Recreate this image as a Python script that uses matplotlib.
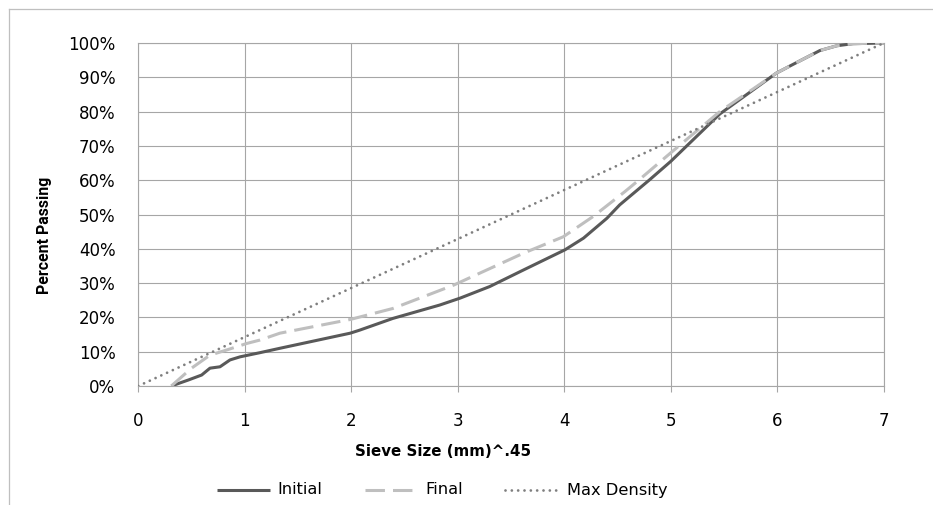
import matplotlib
matplotlib.use("Agg")
import matplotlib.pyplot as plt
from matplotlib.lines import Line2D
from matplotlib.ticker import FuncFormatter

plt.rcParams['font.family'] = ['DejaVu Sans']
plt.rcParams['lines.scale_dashes'] = False

# ---- data (x = sieve size (mm)^0.45, y = percent passing) ----
initial_x = [0.31, 0.47, 0.595, 0.673, 0.767, 0.861, 0.955, 1.14, 1.33, 1.99, 2.08, 2.39,
             2.83, 3.02, 3.30, 3.615, 4.006, 4.18, 4.40, 4.52, 4.80, 5.0, 5.46, 5.99,
             6.15, 6.40, 6.56, 6.71, 7.0]
initial_y = [0, 1.75, 3.2, 5.2, 5.6, 7.6, 8.5, 9.7, 11.0, 15.4, 16.3, 19.7,
             23.6, 25.6, 29.0, 33.8, 39.7, 43.1, 48.9, 52.8, 60.1, 65.5, 79.3, 91.2,
             93.8, 97.8, 99.2, 99.8, 100]

final_x = [0.31, 0.39, 0.50, 0.673, 0.83, 1.018, 1.143, 1.33, 1.99, 2.39, 2.96, 3.615,
           3.99, 4.27, 4.57, 4.71, 5.0, 5.46, 5.99, 6.15, 6.40, 6.56, 6.71, 7.0]
final_y = [0, 2.2, 5.2, 9.0, 10.5, 12.4, 13.4, 15.4, 19.4, 22.6, 29.4, 38.7,
           43.5, 49.4, 56.7, 60.3, 68.0, 80.0, 91.2, 93.8, 97.8, 99.2, 99.8, 100]

maxd_x = [0, 7]
maxd_y = [0, 100]

x_ticks = [0, 1, 2, 3, 4, 5, 6, 7]
y_ticks = [0, 10, 20, 30, 40, 50, 60, 70, 80, 90, 100]

series_names = ["Initial", "Final", "Max Density"]

# ---- styling ----
W, H = 933, 505
fig = plt.figure(figsize=(W / 100, H / 100), dpi=100)

def fx(px):
    return px / W

def fy(py):
    return 1 - py / H

ax_l, ax_r, ax_t, ax_b = 138.3, 883.8, 43.0, 386.0
ax = fig.add_axes([fx(ax_l), fy(ax_b), (ax_r - ax_l) / W, (ax_b - ax_t) / H])

grid_c = '#A6A6A6'
c_init = '#595959'
c_final = '#BFBFBF'
c_max = '#7F7F7F'

lw = 2.2
style_init = dict(color=c_init, lw=lw, solid_capstyle='butt', solid_joinstyle='round')
style_final = dict(color=c_final, lw=lw, linestyle=(0, (14.0, 5.8)), dash_capstyle='butt')
style_max = dict(color=c_max, lw=2.0, linestyle=(0, (0.01, 4.55)), dash_capstyle='round')

ax.plot(initial_x, initial_y, zorder=3, **style_init)
ax.plot(final_x, final_y, zorder=4, **style_final)
ax.plot(maxd_x, maxd_y, zorder=5, **style_max)

ax.set_xlim(0, 7)
ax.set_ylim(0, 100)
ax.set_xticks(x_ticks)
ax.set_yticks(y_ticks)
ax.yaxis.set_major_formatter(FuncFormatter(lambda v, p: f"{int(v)}%"))
ax.grid(True, color=grid_c, lw=0.8)
ax.set_axisbelow(True)
for s in ax.spines.values():
    s.set_color(grid_c)
    s.set_linewidth(0.8)
ax.tick_params(axis='x', direction='out', length=4.3, width=0.8, color=grid_c,
               labelsize=12, pad=14.5, labelcolor='black')
ax.tick_params(axis='y', length=0, labelsize=12, pad=16.5, labelcolor='black')

# axis titles (positioned as in reference)
fig.text(fx(443), fy(452), "Sieve Size (mm)^.45", ha='center', va='center',
         fontsize=10.8, fontweight='bold')
fig.text(fx(44), fy(235), "Percent Passing", ha='center', va='center',
         rotation=90, fontsize=11.4, fontweight='bold',
         family=['Roboto', 'DejaVu Sans'])

# legend drawn manually
ly = fy(490)
legend_items = [
    (217, 270, 277, style_init, series_names[0]),
    (365, 420, 425, style_final, series_names[1]),
    (505, 562, 567, style_max, series_names[2]),
]
for x0, x1, tx, st, name in legend_items:
    fig.add_artist(Line2D([fx(x0), fx(x1)], [ly, ly], transform=fig.transFigure, **st))
    fig.text(fx(tx), ly, name, ha='left', va='center', fontsize=11.7)

# chart-area border (partially visible)
border_c = '#BFBFBF'
fig.add_artist(Line2D([fx(8.5), 1.0], [fy(9), fy(9)], transform=fig.transFigure,
                      color=border_c, lw=0.9))
fig.add_artist(Line2D([fx(8.5), fx(8.5)], [fy(9), 0.0], transform=fig.transFigure,
                      color=border_c, lw=0.9))

fig.savefig("out.png", dpi=100)
